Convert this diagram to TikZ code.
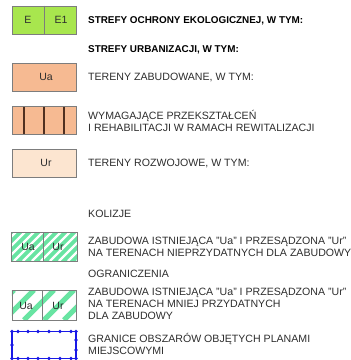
\documentclass[tikz,border=0pt]{standalone}
\usepackage{fontspec}
\setmainfont{Liberation Sans}
\definecolor{lime}{RGB}{168,230,78}
\definecolor{salmon}{RGB}{246,186,146}
\definecolor{peach}{RGB}{252,229,208}
\definecolor{mint}{RGB}{104,228,162}
\definecolor{boxgray}{RGB}{125,125,125}
\definecolor{brownline}{RGB}{80,48,32}
\definecolor{planblue}{RGB}{25,25,230}
\definecolor{txt}{RGB}{45,45,45}
\begin{document}
\begin{tikzpicture}[x=1pt,y=-1pt,
  lbl/.style={anchor=west, font=\fontsize{10.6}{12}\selectfont, text=txt, inner sep=0pt, align=left},
  hd/.style={lbl, font=\fontsize{9.9}{12}\selectfont\bfseries, text=black},
  swatch/.style={draw=boxgray, line width=0.9pt, minimum width=64, minimum height=28, inner sep=0pt},
  swlbl/.style={font=\fontsize{10.5}{12}\selectfont, text=txt, inner sep=0pt}]
\useasboundingbox (0,0) rectangle (351,360);

% ---- E / E1
\node[swatch, fill=lime] (eBox) at (44,20) {};
\draw[boxgray, line width=0.6pt] (eBox.north) -- (eBox.south);
\node[swlbl] (eL) at (28,20) {E};
\node[swlbl] (e1L) at (61,20) {E1};
\node[hd] (t1) at (88,21) {STREFY OCHRONY EKOLOGICZNEJ, W TYM:};
\node[hd] (t2) at (88,50) {STREFY URBANIZACJI, W TYM:};

% ---- Ua
\node[swatch, fill=salmon] (uaBox) at (44,77) {};
\node[swlbl] (uaL) at (46,77) {Ua};
\node[lbl] (t3) at (88,77) {TERENY ZABUDOWANE, W TYM:};

% ---- rewitalizacja
\node[swatch, fill=salmon] (rwBox) at (44,120.5) {};
\foreach \xx in {24,44,64}
  \draw[brownline, line width=1.5pt] (\xx,107) -- (\xx,134);
\node[lbl] (t4) at (88,120.5) {WYMAGAJĄCE PRZEKSZTAŁCEŃ\\I REHABILITACJI W RAMACH REWITALIZACJI};

% ---- Ur
\node[swatch, fill=peach] (urBox) at (44,163) {};
\node[swlbl] (urL) at (46,163) {Ur};
\node[lbl] (t5) at (88,163) {TERENY ROZWOJOWE, W TYM:};

% ---- kolizje
\node[lbl] (t6) at (88,214) {KOLIZJE};
\begin{scope}
  \clip (11,232) rectangle (77,261);
  \fill[mint] (11,232) rectangle (77,261);
  \foreach \i in {-40,-31,...,96}
    \draw[white, line width=2.4pt] (\i,261) -- (\i+29,232);
\end{scope}
\node[swatch, minimum width=66, minimum height=29] (kBox) at (44,246.5) {};
\draw[boxgray, line width=0.6pt] (43,232) -- (43,261);
\node[swlbl] (kUa) at (28,246.5) {Ua};
\node[swlbl] (kUr) at (58,246.5) {Ur};
\node[lbl] (t7) at (88,247) {ZABUDOWA ISTNIEJĄCA "Ua" I PRZESĄDZONA "Ur"\\NA TERENACH NIEPRZYDATNYCH DLA ZABUDOWY};

% ---- ograniczenia
\node[lbl] (t8) at (88,274) {OGRANICZENIA};
\begin{scope}
  \clip (12,290) rectangle (76,320);
  \fill[white] (12,290) rectangle (76,320);
  \foreach \i in {-36,-16,...,90}
    \draw[mint, line width=5pt] (\i,320) -- (\i+30,290);
\end{scope}
\node[swatch, minimum height=30] (oBox) at (44,305) {};
\draw[boxgray, line width=0.6pt] (42,290) -- (42,320);
\node[swlbl] (oUa) at (26,306) {Ua};
\node[swlbl] (oUr) at (58,306) {Ur};
\node[lbl] (t9) at (88,304) {ZABUDOWA ISTNIEJĄCA "Ua" I PRZESĄDZONA "Ur"\\NA TERENACH MNIEJ PRZYDATNYCH\\DLA ZABUDOWY};

% ---- granice planów
\node[draw=planblue, line width=1.2pt, minimum width=64, minimum height=27, inner sep=0pt] (pBox) at (44,345) {};
\foreach \xx in {12,18,28,38,49,60,71,76} {
  \fill[planblue] (\xx,331.5) circle (1.8pt);
  \fill[planblue] (\xx,358.5) circle (1.8pt);
}
\foreach \yy in {345} \fill[planblue] (12,\yy) circle (1.8pt);
\foreach \yy in {340,350} \fill[planblue] (76,\yy) circle (1.8pt);
\node[lbl] (t10) at (88,344) {GRANICE OBSZARÓW OBJĘTYCH PLANAMI\\MIEJSCOWYMI};
\end{tikzpicture}
\end{document}
